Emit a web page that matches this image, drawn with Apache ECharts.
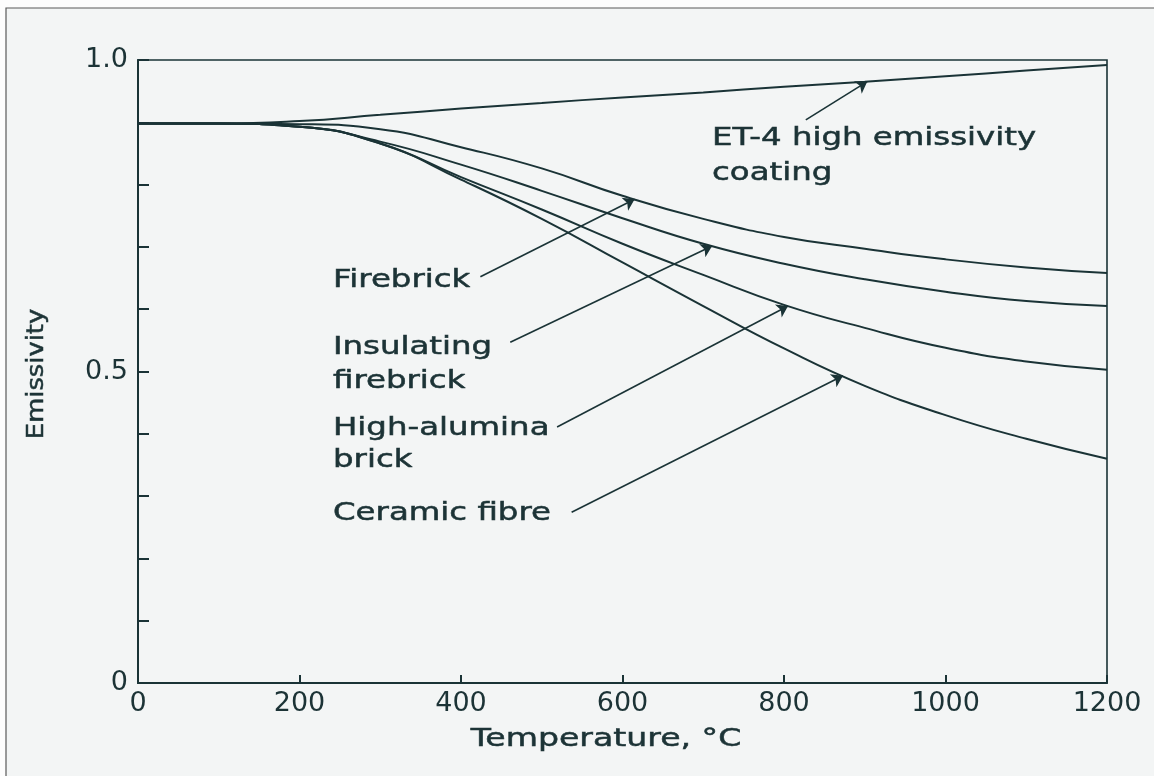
<!DOCTYPE html>
<html>
<head>
<meta charset="utf-8">
<script src="https://cdn.jsdelivr.net/npm/echarts@6/dist/echarts.min.js"></script>
<style>
  html, body { margin: 0; padding: 0; background: #fdfdfd; }
  #chart { width: 1154px; height: 776px; }
</style>
</head>
<body>
<div id="chart"></div>
<script>
// ---- data ----
const temperatures = [0, 100, 200, 300, 400, 500, 600, 700, 800, 900, 1000, 1100, 1200];
const et4Coating       = [0.898, 0.898, 0.902, 0.912, 0.922, 0.931, 0.940, 0.948, 0.957, 0.965, 0.974, 0.983, 0.992];
const firebrick        = [0.898, 0.898, 0.897, 0.889, 0.860, 0.826, 0.782, 0.745, 0.716, 0.697, 0.680, 0.667, 0.658];
const insulatingBrick  = [0.898, 0.898, 0.893, 0.869, 0.832, 0.790, 0.746, 0.705, 0.673, 0.648, 0.628, 0.613, 0.605];
const highAluminaBrick = [0.898, 0.898, 0.893, 0.866, 0.812, 0.760, 0.705, 0.655, 0.607, 0.570, 0.538, 0.516, 0.503];
const ceramicFibre     = [0.898, 0.898, 0.893, 0.866, 0.808, 0.745, 0.675, 0.605, 0.537, 0.477, 0.430, 0.392, 0.360];
const seriesNames = ['ET-4 high emissivity coating', 'Firebrick', 'Insulating firebrick', 'High-alumina brick', 'Ceramic fibre'];
const seriesValues = [et4Coating, firebrick, insulatingBrick, highAluminaBrick, ceramicFibre];

// y tick labels shown
const yLabelMap = { '0': '0', '0.5': '0.5', '1': '1.0' };

// annotation leaders: tail point (temperature, emissivity), tip on the curve at temperature
const leaders = [
  { series: 0, tail: [827, 0.904], tipT: 903 },
  { series: 1, tail: [424, 0.652], tipT: 615 },
  { series: 2, tail: [461, 0.547], tipT: 711 },
  { series: 3, tail: [519, 0.411], tipT: 805 },
  { series: 4, tail: [537, 0.274], tipT: 873 }
];

function interp(arr, t) {
  for (let i = 0; i < temperatures.length - 1; i++) {
    const a = temperatures[i], b = temperatures[i + 1];
    if (t >= a && t <= b) {
      const f = (t - a) / (b - a);
      return arr[i] + f * (arr[i + 1] - arr[i]);
    }
  }
  return arr[arr.length - 1];
}

const ink = '#1a3336';
const textInk = '#1c3336';
const font = 'DejaVu Sans';

const lineSeries = seriesNames.map((name, i) => ({
  name: name,
  type: 'line',
  data: temperatures.map((t, j) => [t, seriesValues[i][j]]),
  showSymbol: false,
  smooth: 0.5,
  lineStyle: { color: ink, width: 2 },
  itemStyle: { color: ink },
  z: 3
}));

const leaderSeries = {
  type: 'lines',
  coordinateSystem: 'cartesian2d',
  symbol: ['none', 'arrow'],
  symbolSize: 11,
  lineStyle: { color: ink, width: 1.6, opacity: 1 },
  data: leaders.map(l => ({
    coords: [l.tail, [l.tipT, interp(seriesValues[l.series], l.tipT)]]
  })),
  z: 4
};

function label(text, x, y, opts) {
  opts = opts || {};
  return {
    type: 'text',
    x: x, y: y,
    scaleX: opts.scaleX || 1.35,
    rotation: opts.rotation || 0,
    z: 10,
    style: {
      text: text,
      font: (opts.size || 24) + 'px "' + font + '"',
      fill: textInk,
      stroke: textInk,
      lineWidth: 0.5,
      align: opts.align || 'left',
      verticalAlign: 'middle'
    }
  };
}

const chart = echarts.init(document.getElementById('chart'));
chart.setOption({
  backgroundColor: '#fdfdfd',
  animation: false,
  grid: { left: 138, right: 47, top: 60, bottom: 93, show: true, borderColor: ink, borderWidth: 1.6 },
  xAxis: {
    type: 'value', min: 0, max: 1200, interval: 200,
    axisLine: { show: true, lineStyle: { color: ink, width: 2 } },
    axisTick: { show: true, inside: true, length: 8, lineStyle: { color: ink, width: 2 } },
    axisLabel: { fontFamily: font, fontSize: 27, color: textInk, margin: 7, formatter: v => String(v) },
    splitLine: { show: false }
  },
  yAxis: {
    type: 'value', min: 0, max: 1, interval: 0.1,
    axisLine: { show: true, lineStyle: { color: ink, width: 2 } },
    axisTick: { show: true, inside: true, length: 11, lineStyle: { color: ink, width: 2 } },
    axisLabel: {
      fontFamily: font, fontSize: 27, color: textInk, margin: 10,
      formatter: v => { const k = String(Math.round(v * 10) / 10); return yLabelMap[k] !== undefined ? yLabelMap[k] : ''; }
    },
    splitLine: { show: false }
  },
  series: lineSeries.concat([leaderSeries]),
  graphic: [
    { type: 'rect', z: -100, shape: { x: 6, y: 8, width: 1400, height: 1000 },
      style: { fill: '#f3f5f5', stroke: '#5a5a5a', lineWidth: 1.2 } },
    label('ET-4 high emissivity', 712, 139),
    label('coating', 712, 174),
    label('Firebrick', 333, 281),
    label('Insulating', 333, 348),
    label('firebrick', 333, 382),
    label('High-alumina', 333, 429),
    label('brick', 333, 461),
    label('Ceramic fibre', 333, 514),
    label('Temperature, \u00b0C', 606, 740, { align: 'center', scaleX: 1.38 }),
    label('Emissivity', 37, 374, { align: 'center', rotation: Math.PI / 2, scaleX: 1.12, size: 23 })
  ]
});
</script>
</body>
</html>
